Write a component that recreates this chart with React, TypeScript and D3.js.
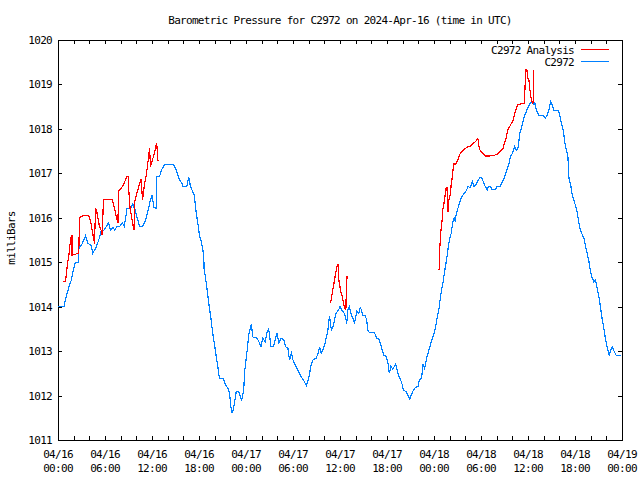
import React from "react";
import * as d3 from "d3";

// hours since 2024-04-16 00:00 UTC, pressure in mbar
const stationHours = [0.0,0.75,1.05,1.4,1.7,1.9,2.2,2.6,2.66,3.1,3.5,3.85,4.2,4.45,4.9,5.2,5.5,5.85,6.15,6.45,6.7,7.0,7.25,7.5,7.85,8.2,8.45,8.6,8.8,9.35,9.55,9.85,10.05,10.4,10.8,11.2,11.5,11.8,12.0,12.25,12.55,12.6,12.95,13.2,13.6,14.45,14.75,15.0,15.25,15.5,15.8,15.95,16.45,16.7,16.9,17.15,17.4,17.65,17.85,18.05,18.35,18.6,18.65,18.9,19.1,19.3,19.5,19.7,19.95,20.2,20.4,20.6,21.1,21.4,21.7,21.9,22.1,22.25,22.45,22.65,22.75,23.05,23.25,23.45,23.7,23.85,24.05,24.2,24.35,24.55,24.7,24.85,25.4,25.65,25.9,26.15,26.45,26.65,26.9,27.2,27.5,27.95,28.2,28.5,28.85,29.05,29.35,29.55,29.8,30.0,30.2,30.6,31.05,31.35,31.7,32.0,32.35,32.55,32.95,33.2,33.4,33.6,33.8,34.05,34.25,34.45,34.65,34.9,35.1,35.3,35.5,35.8,36.0,36.25,36.55,36.8,36.85,37.0,37.2,37.45,37.65,37.85,38.15,38.4,38.6,38.9,39.2,39.4,39.55,39.8,40.4,40.7,40.95,41.2,41.4,41.6,41.9,42.1,42.3,42.5,42.75,43.1,43.3,43.5,43.75,43.95,44.1,44.45,44.65,44.9,45.1,45.3,45.6,45.95,46.15,46.4,46.6,46.8,47.1,47.35,47.65,47.95,48.2,48.4,48.65,48.85,49.05,49.2,49.35,49.6,49.8,50.0,50.2,50.4,50.65,50.7,50.85,51.05,51.25,51.5,51.7,52.05,52.35,52.65,52.9,53.1,53.4,53.6,53.9,54.1,54.3,54.55,54.8,54.95,55.2,55.45,55.8,56.05,56.45,56.7,56.9,57.15,57.35,57.55,57.75,58.0,58.3,58.5,58.7,58.85,59.0,59.15,59.35,59.55,59.8,60.1,60.35,60.55,60.75,60.85,60.95,61.1,61.35,61.9,62.2,62.45,62.65,62.9,63.1,63.3,63.8,64.05,64.15,64.4,64.55,64.75,64.9,65.1,65.2,65.45,65.6,65.85,66.1,66.3,66.5,66.7,66.95,67.15,67.35,67.55,67.75,67.95,68.15,68.4,68.6,68.8,69.05,69.25,69.45,69.65,69.85,70.0,70.25,70.35,70.55,70.75,70.95,71.25,71.5,71.9];
const stationValues = [1014.0,1014.0,1014.22,1014.45,1014.6,1014.79,1014.99,1014.99,1015.31,1015.42,1015.59,1015.42,1015.39,1015.2,1015.35,1015.5,1015.69,1015.72,1015.8,1015.89,1015.72,1015.79,1015.72,1015.8,1015.8,1015.89,1015.81,1015.95,1016.2,1016.24,1016.31,1016.17,1016.04,1015.81,1015.81,1015.95,1016.17,1016.4,1016.51,1016.24,1016.21,1016.92,1016.92,1017.07,1017.2,1017.2,1017.2,1017.11,1017.0,1016.85,1016.78,1016.71,1016.71,1016.91,1016.71,1016.61,1016.51,1016.1,1015.88,1015.61,1015.42,1015.16,1014.86,1014.56,1014.3,1014.0,1013.77,1013.47,1013.18,1012.88,1012.65,1012.39,1012.39,1012.24,1012.16,1012.05,1011.71,1011.6,1011.75,1011.97,1012.09,1012.09,1011.99,1011.9,1012.12,1012.57,1012.87,1013.1,1013.36,1013.51,1013.61,1013.32,1013.29,1013.21,1013.1,1013.29,1013.21,1013.4,1013.49,1013.1,1013.1,1013.4,1013.19,1013.29,1013.25,1013.1,1013.06,1012.8,1012.95,1012.8,1012.72,1012.57,1012.42,1012.35,1012.22,1012.39,1012.72,1012.8,1012.84,1012.95,1013.1,1012.95,1013.02,1013.14,1013.31,1013.47,1013.79,1013.47,1013.55,1013.7,1013.85,1013.92,1014.0,1013.92,1013.85,1013.7,1013.61,1013.92,1014.0,1013.81,1013.74,1013.62,1013.89,1013.85,1014.0,1013.81,1013.81,1013.7,1013.47,1013.41,1013.41,1013.29,1013.27,1013.14,1013.02,1012.91,1012.88,1012.76,1012.5,1012.66,1012.59,1012.71,1012.57,1012.44,1012.35,1012.24,1012.12,1012.09,1012.01,1011.92,1012.01,1012.1,1012.18,1012.2,1012.36,1012.38,1012.69,1012.61,1012.87,1013.02,1013.21,1013.36,1013.55,1013.74,1013.96,1014.26,1014.45,1014.6,1014.79,1015.05,1015.31,1015.54,1015.65,1015.91,1016.02,1015.91,1016.1,1016.21,1016.33,1016.47,1016.51,1016.59,1016.7,1016.68,1016.81,1016.71,1016.75,1016.83,1016.91,1016.89,1016.81,1016.7,1016.63,1016.7,1016.7,1016.63,1016.63,1016.7,1016.7,1016.81,1016.86,1017.0,1017.11,1017.21,1017.37,1017.45,1017.6,1017.52,1017.55,1017.75,1017.95,1018.0,1018.16,1018.29,1018.4,1018.52,1018.59,1018.61,1018.55,1018.61,1018.5,1018.42,1018.31,1018.31,1018.24,1018.31,1018.42,1018.61,1018.54,1018.42,1018.42,1018.33,1018.2,1018.05,1017.9,1017.64,1017.52,1017.37,1016.92,1016.74,1016.55,1016.4,1016.25,1016.1,1015.88,1015.72,1015.61,1015.54,1015.35,1015.2,1015.05,1014.82,1014.67,1014.56,1014.6,1014.45,1014.22,1014.0,1013.74,1013.55,1013.32,1013.18,1012.99,1012.91,1013.02,1013.1,1013.01,1012.91,1012.91,1012.91];

const analysisHoursA = [0.6,0.95,1.05,1.25,1.4,1.5,1.6,1.7,1.78,1.8,2.25,2.65,2.75,3.15,3.6,3.95,4.1,4.25,4.35,4.55,4.65,4.8,4.95,5.1,5.3,5.5,5.65,5.8,6.9,7.1,7.35,7.5,7.65,7.7,7.75,8.05,8.35,8.6,8.8,8.95,9.05,9.2,9.4,9.7,9.8,10.0,10.25,10.4,10.6,10.8,11.05,11.2,11.35,11.5,11.6,11.7,11.8,12.0,12.2,12.4,12.6,12.75,12.85];
const analysisValuesA = [1014.56,1014.56,1014.71,1015.01,1015.16,1015.35,1015.5,1015.59,1015.59,1015.16,1015.18,1015.21,1016.01,1016.04,1016.06,1016.04,1015.95,1015.84,1015.72,1015.54,1015.42,1016.21,1016.14,1015.99,1015.8,1015.72,1015.61,1016.41,1016.41,1016.29,1016.1,1015.99,1015.89,1016.26,1016.61,1016.66,1016.74,1016.85,1016.92,1016.92,1016.59,1016.21,1016.01,1015.72,1016.36,1016.51,1016.66,1016.77,1016.86,1016.4,1016.77,1016.89,1017.07,1017.28,1017.45,1017.56,1017.15,1017.26,1017.39,1017.52,1017.69,1017.28,1017.28];

const analysisHoursB = [34.8,35.0,35.2,35.4,35.6,35.75,35.85,36.1,36.3,36.5,36.65,36.75,36.8,36.9];
const analysisValuesB = [1014.08,1014.3,1014.49,1014.71,1014.9,1014.96,1014.6,1014.34,1014.22,1014.04,1013.94,1013.94,1014.3,1014.69];

const analysisHoursC = [48.65,48.7,48.85,49.0,49.15,49.35,49.5,49.65,49.8,49.9,50.1,50.2,50.35,50.5,50.75,51.05,51.25,51.5,51.7,52.0,52.35,52.65,53.0,53.3,53.6,53.75,53.9,54.25,54.55,55.1,55.75,56.05,56.4,56.8,57.0,57.2,57.45,57.65,57.9,58.1,58.3,58.5,58.7,59.1,59.55,59.7,59.85,60.0,60.1,60.25,60.4,60.55,60.7,60.75];
const analysisValuesC = [1014.82,1015.2,1015.65,1015.88,1016.21,1016.4,1016.66,1016.69,1016.14,1016.4,1016.55,1016.77,1016.92,1017.21,1017.21,1017.3,1017.41,1017.49,1017.51,1017.56,1017.6,1017.61,1017.68,1017.71,1017.79,1017.6,1017.51,1017.45,1017.39,1017.39,1017.41,1017.43,1017.49,1017.56,1017.68,1017.79,1017.99,1018.05,1018.13,1018.2,1018.35,1018.46,1018.54,1018.56,1018.58,1019.34,1019.34,1019.14,1019.14,1018.87,1018.69,1018.58,1018.6,1019.33];

const xLabelHours = [0, 6, 12, 18, 24, 30, 36, 42, 48, 54, 60, 66, 72];
const xLabelDates = ["04/16","04/16","04/16","04/16","04/17","04/17","04/17","04/17","04/18","04/18","04/18","04/18","04/19"];
const xLabelTimes = ["00:00","06:00","12:00","18:00","00:00","06:00","12:00","18:00","00:00","06:00","12:00","18:00","00:00"];
const yTickValues = [1011,1012,1013,1014,1015,1016,1017,1018,1019,1020];

const title = "Barometric Pressure for C2972 on 2024-Apr-16 (time in UTC)";
const yTitle = "milliBars";
const seriesNames = ["C2972 Analysis", "C2972"];
const seriesColors = ["#ff0000", "#0080ff"];

const W = 640, H = 480;
const L = 58, R = 622, T = 40, B = 440;
const FONT = "'DejaVu Sans Mono', monospace";

export default function App() {
  const x = d3.scaleLinear().domain([0, 72]).range([L, R]);
  const y = d3.scaleLinear().domain([1011, 1020]).range([B, T]);
  const line = d3.line<[number, number]>().x(d => x(d[0])).y(d => y(d[1]));
  const zip = (a: number[], b: number[]) => a.map((h, i) => [h, b[i]] as [number, number]);
  const station = zip(stationHours, stationValues);
  const analysis = [zip(analysisHoursA, analysisValuesA), zip(analysisHoursB, analysisValuesB), zip(analysisHoursC, analysisValuesC)];
  const minorTicks = d3.range(0, 73, 2);
  const tl = 4;
  const textStyle: React.CSSProperties = { fontFamily: FONT, fontSize: 11, letterSpacing: -0.7 };

  return (
    <div style={{ position: "absolute", left: 0, top: 0 }}>
      <svg width={W} height={H} style={{ display: "block", background: "#fff" }}>
        <rect x={0} y={0} width={W} height={H} fill="#fff" />
        <text x={340} y={24} textAnchor="middle" style={textStyle} fill="#000">{title}</text>
        <text transform={`translate(15,238) rotate(-90)`} textAnchor="middle" style={textStyle} fill="#000">{yTitle}</text>
        <g shapeRendering="crispEdges" stroke="#000" strokeWidth={1}>
          {minorTicks.map(h => (
            <g key={"xt" + h}>
              <line x1={Math.round(x(h)) + 0.5} x2={Math.round(x(h)) + 0.5} y1={B} y2={B - tl} />
              <line x1={Math.round(x(h)) + 0.5} x2={Math.round(x(h)) + 0.5} y1={T} y2={T + tl} />
            </g>
          ))}
          {yTickValues.map(v => (
            <g key={"yt" + v}>
              <line x1={L} x2={L + tl} y1={Math.round(y(v)) + 0.5} y2={Math.round(y(v)) + 0.5} />
              <line x1={R} x2={R - tl} y1={Math.round(y(v)) + 0.5} y2={Math.round(y(v)) + 0.5} />
            </g>
          ))}
          <rect x={L + 0.5} y={T + 0.5} width={R - L} height={B - T} fill="none" />
        </g>
        {yTickValues.map(v => (
          <text key={"yl" + v} x={52} y={y(v) + 4} textAnchor="end" style={textStyle} fill="#000">{v}</text>
        ))}
        {xLabelHours.map((h, i) => (
          <g key={"xl" + h}>
            <text x={x(h)} y={458} textAnchor="middle" style={textStyle} fill="#000">{xLabelDates[i]}</text>
            <text x={x(h)} y={472} textAnchor="middle" style={textStyle} fill="#000">{xLabelTimes[i]}</text>
          </g>
        ))}
        <g fill="none" strokeWidth={1.2} shapeRendering="crispEdges">
          <path d={line(station) || ""} stroke={seriesColors[1]} />
          {analysis.map((seg, i) => (
            <path key={"a" + i} d={line(seg) || ""} stroke={seriesColors[0]} />
          ))}
        </g>
        <g>
          <text x={574} y={54} textAnchor="end" style={textStyle} fill="#000">{seriesNames[0]}</text>
          <line x1={581} x2={609} y1={49.5} y2={49.5} stroke={seriesColors[0]} shapeRendering="crispEdges" />
          <text x={574} y={66} textAnchor="end" style={textStyle} fill="#000">{seriesNames[1]}</text>
          <line x1={581} x2={609} y1={61.5} y2={61.5} stroke={seriesColors[1]} shapeRendering="crispEdges" />
        </g>
      </svg>
    </div>
  );
}
